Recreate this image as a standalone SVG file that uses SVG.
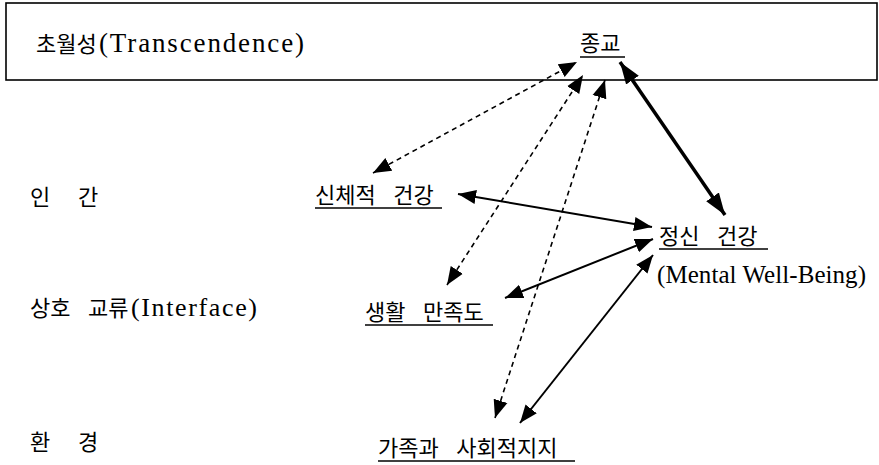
<svg xmlns="http://www.w3.org/2000/svg" width="879" height="465" viewBox="0 0 879 465">
<defs>
<style>
text{font-family:"Liberation Serif","Noto Sans CJK KR",serif;font-size:22px;fill:#000;word-spacing:12px}
.lat{font-size:25px;word-spacing:0}
.ul{stroke:#000;stroke-width:1.4}
.dash{stroke:#000;stroke-width:1.6;stroke-dasharray:5 4;fill:none}
.solid{stroke:#000;stroke-width:2;fill:none}
.thick{stroke:#000;stroke-width:3.5;fill:none}
</style>
<marker id="ah" viewBox="0 0 10 10" refX="10" refY="5" markerWidth="18" markerHeight="18" markerUnits="userSpaceOnUse" orient="auto-start-reverse">
<path d="M0,1 L10,5 L0,9 z" fill="#000"/>
</marker>
<marker id="ahb" viewBox="0 0 10 10" refX="10" refY="5" markerWidth="22" markerHeight="22" markerUnits="userSpaceOnUse" orient="auto-start-reverse">
<path d="M0,1.5 L10,5 L0,8.5 z" fill="#000"/>
</marker>
</defs>
<rect width="879" height="465" fill="#fff"/>
<g id="transcendence">
<rect x="6" y="3" width="871" height="77" fill="none" stroke="#000" stroke-width="1.6"/>
<text x="36" y="52">초월성</text>
<text class="lat" x="99" y="52" style="font-size:27px" textLength="205" lengthAdjust="spacing">(Transcendence)</text>
</g>
<g id="religion">
<text x="580" y="51">종교</text>
<line class="ul" x1="580" y1="57" x2="625" y2="57"/>
</g>
<g id="human"><text x="30" y="205">인</text><text x="78" y="205">간</text></g>
<g id="interface">
<text x="30" y="316">상호 교류</text>
<text class="lat" x="131" y="316" style="font-size:26px" textLength="126" lengthAdjust="spacing">(Interface)</text>
</g>
<g id="environment"><text x="30" y="450">환</text><text x="78" y="450">경</text></g>
<g id="physical">
<text x="315" y="203">신체적 건강</text>
<line class="ul" x1="315" y1="208" x2="442" y2="208"/>
</g>
<g id="mental">
<text x="659" y="244">정신 건강</text>
<line class="ul" x1="659" y1="249" x2="768" y2="249"/>
<text class="lat" x="657" y="283" textLength="209" lengthAdjust="spacing">(Mental Well-Being)</text>
</g>
<g id="life">
<text x="365" y="320">생활 만족도</text>
<line class="ul" x1="365" y1="325" x2="493" y2="325"/>
</g>
<g id="family">
<text x="378" y="456">가족과 사회적지지</text>
<line class="ul" x1="378" y1="461" x2="575" y2="461"/>
</g>
<g id="connectors">
<line class="dash" x1="373" y1="173" x2="577" y2="62" marker-start="url(#ah)" marker-end="url(#ah)"/>
<line class="dash" x1="447" y1="285" x2="583" y2="75" marker-start="url(#ah)" marker-end="url(#ah)"/>
<line class="dash" x1="495" y1="418" x2="605" y2="80" marker-start="url(#ah)" marker-end="url(#ah)"/>
<line class="thick" x1="620" y1="62" x2="725" y2="215" marker-start="url(#ahb)" marker-end="url(#ahb)"/>
<line class="solid" x1="458" y1="194" x2="652" y2="227" marker-start="url(#ah)" marker-end="url(#ah)"/>
<line class="solid" x1="505" y1="298" x2="653" y2="239" marker-start="url(#ah)" marker-end="url(#ah)"/>
<line class="solid" x1="520" y1="423" x2="653" y2="255" marker-start="url(#ah)" marker-end="url(#ah)"/>
</g>
</svg>
